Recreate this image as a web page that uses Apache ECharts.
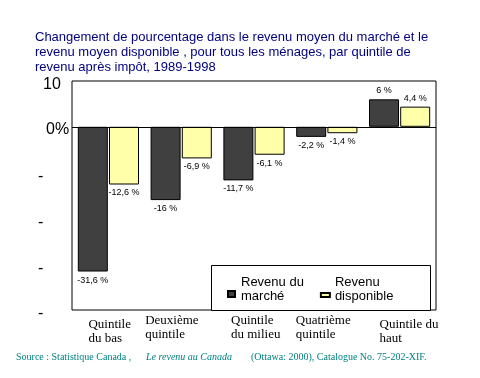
<!DOCTYPE html>
<html>
<head>
<meta charset="utf-8">
<script src="https://cdn.jsdelivr.net/npm/echarts@6/dist/echarts.min.js"></script>
<style>html,body{margin:0;padding:0;background:#fff;}#c{width:480px;height:378px;}</style>
</head>
<body>
<div id="c"></div>
<script>
const categories = ['Quintile\ndu bas', 'Deuxième\nquintile', 'Quintile\ndu milieu', 'Quatrième\nquintile', 'Quintile du\nhaut'];
const seriesNames = ['Revenu du\nmarché', 'Revenu\ndisponible'];
const marketIncome = [-31.6, -16, -11.7, -2.2, 6];
const disposableIncome = [-12.6, -6.9, -6.1, -1.4, 4.4];
const yTickValues = [10, 0, -10, -20, -30, -40];
const yTickLabels = ['10', '0%', '-', '-', '-', '-'];
const titleText = 'Changement de pourcentage dans le revenu moyen du marché et le\nrevenu moyen disponible , pour tous les ménages, par quintile de\nrevenu après impôt, 1989-1998';
const sourceParts = ['Source : Statistique Canada ,', 'Le revenu au Canada', '(Ottawa: 2000), Catalogue No. 75-202-XIF.'];

const chart = echarts.init(document.getElementById('c'), null, {renderer: 'canvas'});

const xPad = [[9,0,0,30],[1,2,0,0],[1,0,0,24],[1,0,0,8],[9,0,0,30]];
const rich = {};
xPad.forEach((p, i) => {
  rich['c' + i] = {width: 70, align: 'left', padding: p, fontFamily: 'Liberation Serif', fontSize: 13, lineHeight: 14, color: '#000'};
});

const yRich = {
  y10: {padding: [8,0,0,5], fontSize: 16, fontFamily: 'Liberation Sans', color: '#000'},
  y0: {padding: [5,0,0,8], fontSize: 16, fontFamily: 'Liberation Sans', color: '#000'},
  yd: {padding: [8,0,0,0], fontSize: 16, fontFamily: 'Liberation Sans', color: '#000'}
};

function fmtVal(v) { return String(v).replace('.', ',') + ' %'; }

function labelFor(v) {
  return {show: true, position: v < 0 ? 'bottom' : 'top', distance: 4,
    formatter: p => fmtVal(p.value), fontSize: 9, fontFamily: 'Liberation Sans', color: '#000'};
}

const option = {
  animation: false,
  backgroundColor: '#fff',
  title: [
    {text: titleText, left: 30, top: 25, textStyle: {fontFamily: 'Liberation Sans', fontSize: 13, fontWeight: 'normal', color: '#000080', lineHeight: 15}},
    {text: sourceParts[0], left: 11, top: 347, textStyle: {fontFamily: 'Liberation Serif', fontSize: 10, fontWeight: 'normal', color: '#008080'}},
    {text: sourceParts[1], left: 141, top: 347, textStyle: {fontFamily: 'Liberation Serif', fontSize: 10, fontStyle: 'italic', fontWeight: 'normal', color: '#008080'}},
    {text: sourceParts[2], left: 246, top: 347, textStyle: {fontFamily: 'Liberation Serif', fontSize: 10, fontWeight: 'normal', color: '#008080'}}
  ],
  grid: {left: 72, right: 44, top: 81, bottom: 68, show: true, borderColor: '#000', borderWidth: 1, backgroundColor: 'transparent'},
  legend: {
    left: 226, top: 275, z: 10, itemWidth: 9, itemHeight: 16, itemGap: 16, padding: 0,
    data: [
      {name: seriesNames[0], icon: 'path://M0,0L0,0M9,0L9,0M1,10L8,10L8,16L1,16Z'},
      {name: seriesNames[1], icon: 'path://M0,0L0,0M9,0L9,0M0,12L9,12L9,16L0,16Z'}
    ],
    textStyle: {fontFamily: 'Liberation Sans', fontSize: 13, lineHeight: 14, color: '#000'}
  },
  graphic: [{type: 'rect', z: 5, shape: {x: 211.5, y: 265.5, width: 219, height: 45}, style: {fill: '#fff', stroke: '#000', lineWidth: 1}}],
  xAxis: {
    type: 'category', data: categories,
    axisLine: {show: false, onZero: false}, axisTick: {show: false},
    axisLabel: {margin: 3, interval: 0,
      formatter: (v, i) => v.split('\n').map(l => '{c' + i + '|' + l + '}').join('\n'),
      rich: rich}
  },
  yAxis: {
    type: 'value', min: -40, max: 10, interval: 10,
    splitLine: {show: false}, axisTick: {show: false}, axisLine: {show: false},
    axisLabel: {align: 'left', margin: 34,
      formatter: v => {
        const idx = yTickValues.indexOf(v);
        const t = idx >= 0 ? yTickLabels[idx] : '';
        const k = t === '10' ? 'y10' : (t === '0%' ? 'y0' : 'yd');
        return '{' + k + '|' + t + '}';
      },
      rich: yRich}
  },
  series: [
    {name: seriesNames[0], type: 'bar', barWidth: 30, barGap: '4%',
      itemStyle: {color: '#404040', borderColor: '#000', borderWidth: 1},
      data: marketIncome.map(v => ({value: v, label: labelFor(v)})),
      markLine: {silent: true, symbol: 'none', label: {show: false}, lineStyle: {color: '#000', type: 'solid', width: 1}, data: [{yAxis: 0}]}
    },
    {name: seriesNames[1], type: 'bar', barWidth: 30,
      itemStyle: {color: '#ffffaa', borderColor: '#000', borderWidth: 1},
      data: disposableIncome.map(v => ({value: v, label: labelFor(v)}))
    }
  ]
};
chart.setOption(option);
</script>
</body>
</html>
